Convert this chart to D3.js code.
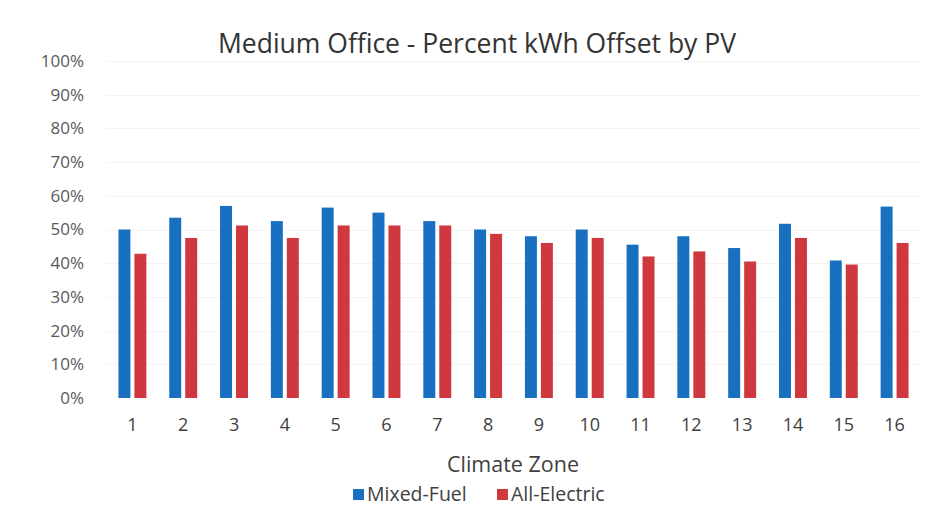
<!DOCTYPE html>
<html>
<head>
<meta charset="utf-8">
<script src="https://cdn.jsdelivr.net/npm/d3@7/dist/d3.min.js"></script>
<style>
  html, body { margin: 0; padding: 0; background: #ffffff; }
  svg { display: block; }
  text { font-family: "Open Sans", Lato, "Liberation Sans", sans-serif; }
</style>
</head>
<body>
<svg id="chart" width="925" height="526"></svg>
<script>
const categories = ["1","2","3","4","5","6","7","8","9","10","11","12","13","14","15","16"];
const seriesNames = ["Mixed-Fuel", "All-Electric"];
const mixedFuel   = [0.50, 0.535, 0.57, 0.525, 0.565, 0.55, 0.525, 0.50, 0.48, 0.50, 0.455, 0.48, 0.445, 0.517, 0.408, 0.568];
const allElectric = [0.428, 0.475, 0.512, 0.475, 0.512, 0.512, 0.512, 0.487, 0.46, 0.475, 0.42, 0.435, 0.405, 0.475, 0.396, 0.46];
const yTicks = [0, 0.1, 0.2, 0.3, 0.4, 0.5, 0.6, 0.7, 0.8, 0.9, 1.0];
const colors = ["#1a70c0", "#d0383f"];

const svg = d3.select("#chart");
svg.append("rect").attr("width", 925).attr("height", 526).attr("fill", "#ffffff");

const x0 = d3.scaleBand().domain(categories).range([107, 920]).paddingInner(0.45).paddingOuter(0.225);
const x1 = d3.scaleBand().domain(seriesNames).range([0, x0.bandwidth()]).paddingInner(0.25);
const y = d3.scaleLinear().domain([0, 1]).range([398, 61]);

// faint gridlines
svg.append("g").selectAll("line").data(yTicks.slice(1)).join("line")
  .attr("x1", 107).attr("x2", 920)
  .attr("y1", d => Math.round(y(d)) + 0.5).attr("y2", d => Math.round(y(d)) + 0.5)
  .attr("stroke", "#f4f4f4").attr("stroke-width", 1);

// y axis labels
const yAxis = d3.axisLeft(y).tickValues(yTicks).tickFormat(d3.format(".0%")).tickSize(0).tickPadding(0);
const gy = svg.append("g").attr("transform", "translate(84,0)").call(yAxis);
gy.select(".domain").remove();
gy.selectAll("text").attr("font-size", 17).attr("fill", "#595959")
  .style("font-family", "'Open Sans', Lato, sans-serif");

// bars
const data = categories.map((c, i) => ({ cat: c, vals: [mixedFuel[i], allElectric[i]] }));
const groups = svg.append("g").selectAll("g").data(data).join("g")
  .attr("transform", d => `translate(${x0(d.cat)},0)`);
groups.selectAll("rect").data(d => d.vals.map((v, j) => ({ name: seriesNames[j], v, j }))).join("rect")
  .attr("x", d => x1(d.name))
  .attr("width", x1.bandwidth())
  .attr("y", d => y(d.v))
  .attr("height", d => y(0) - y(d.v))
  .attr("fill", d => colors[d.j]);

// x axis labels
const xAxis = d3.axisBottom(x0).tickSize(0).tickPadding(0);
const gx = svg.append("g").attr("transform", "translate(0,418)").call(xAxis);
gx.select(".domain").remove();
gx.selectAll("text").attr("font-size", 18).attr("fill", "#404040")
  .style("font-family", "'Open Sans', Lato, sans-serif");

// title
svg.append("text").attr("x", 477).attr("y", 53).attr("text-anchor", "middle")
  .attr("font-size", 26.5).attr("fill", "#333333").text("Medium Office - Percent kWh Offset by PV");

// x axis title
svg.append("text").attr("x", 513).attr("y", 472).attr("text-anchor", "middle")
  .attr("font-size", 21.5).attr("fill", "#404040").text("Climate Zone");

// legend
const legend = svg.append("g");
const legendItems = [
  { name: seriesNames[0], color: colors[0], x: 353 },
  { name: seriesNames[1], color: colors[1], x: 497 }
];
legendItems.forEach(it => {
  legend.append("rect").attr("x", it.x).attr("y", 489).attr("width", 11).attr("height", 11).attr("fill", it.color);
  legend.append("text").attr("x", it.x + 14).attr("y", 501).attr("font-size", 19.5).attr("fill", "#404040").text(it.name);
});
</script>
</body>
</html>
